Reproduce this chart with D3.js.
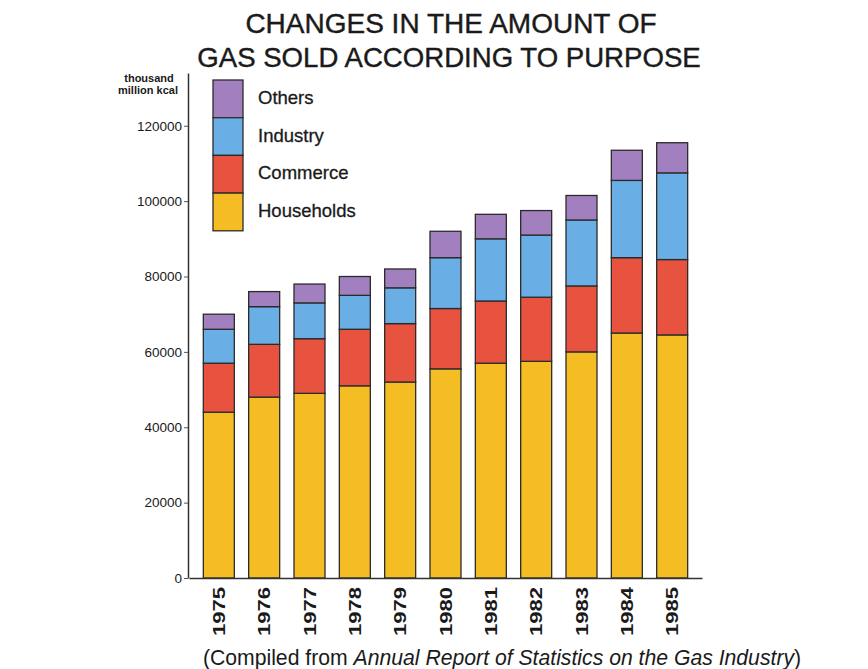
<!DOCTYPE html>
<html>
<head>
<meta charset="utf-8">
<script src="https://cdn.jsdelivr.net/npm/d3@7"></script>
<style>
  body { margin: 0; background: #fff; }
  text { font-family: "Liberation Sans", Arial, sans-serif; fill: #1a1a1a; }
</style>
</head>
<body>
<svg id="chart" width="868" height="669"></svg>
<script>
// data (thousand million kcal)
const years = ['1975','1976','1977','1978','1979','1980','1981','1982','1983','1984','1985']
const households = [44000, 48000, 49000, 51000, 52000, 55500, 57000, 57500, 60000, 65000, 64500]
const commerce   = [13000, 14000, 14500, 15000, 15500, 16000, 16500, 17000, 17500, 20000, 20000]
const industry   = [ 9000, 10000,  9500,  9000,  9500, 13500, 16500, 16500, 17500, 20500, 23000]
const others     = [ 4000,  4000,  5000,  5000,  5000,  7000,  6500,  6500,  6500,  8000,  8000]
const seriesNames = ['Households', 'Commerce', 'Industry', 'Others']
const colors = ['#f4bd24', '#e8533f', '#6aaee6', '#a27fbe']
const yTicks = [0, 20000, 40000, 60000, 80000, 100000, 120000]

const svg = d3.select('#chart')

const rows = years.map((y, i) => ({
  year: y,
  Households: households[i],
  Commerce: commerce[i],
  Industry: industry[i],
  Others: others[i]
}))
const stacked = d3.stack().keys(seriesNames)(rows)

const x = d3.scaleBand().domain(years).range([189, 702]).padding(0.316)
const y = d3.scaleLinear().domain([0, 134000]).range([578, 73])
const color = d3.scaleOrdinal().domain(seriesNames).range(colors)

// title
svg.append('text')
  .attr('x', 451).attr('y', 33)
  .attr('text-anchor', 'middle')
  .style('font-size', '28px')
  .style('stroke', '#1a1a1a').style('stroke-width', 0.4)
  .text('CHANGES IN THE AMOUNT OF')
svg.append('text')
  .attr('x', 449).attr('y', 67)
  .attr('text-anchor', 'middle')
  .style('font-size', '27.6px')
  .style('stroke', '#1a1a1a').style('stroke-width', 0.4)
  .text('GAS SOLD ACCORDING TO PURPOSE')

// bars
svg.append('g')
  .selectAll('g')
  .data(stacked)
  .join('g')
  .attr('fill', d => color(d.key))
  .selectAll('rect')
  .data(d => d)
  .join('rect')
  .attr('x', d => x(d.data.year))
  .attr('width', x.bandwidth())
  .attr('y', d => y(d[1]))
  .attr('height', d => y(d[0]) - y(d[1]))
  .attr('stroke', '#2b2b2b')
  .attr('stroke-width', 1.3)

// y axis
const yAxis = svg.append('g')
  .attr('transform', 'translate(188,0)')
  .call(d3.axisLeft(y).tickValues(yTicks).tickSize(4).tickSizeOuter(0).tickFormat(d3.format('d')))
yAxis.select('.domain').attr('stroke', '#333').attr('stroke-width', 1.5)
yAxis.selectAll('.tick line').attr('stroke', '#555')
yAxis.selectAll('.tick text')
  .attr('x', -6)
  .style('font-size', '13.5px')
  .style('font-family', '"Liberation Sans", Arial, sans-serif')
  .attr('fill', '#4a4a4a')

// x axis
const xAxis = svg.append('g')
  .attr('transform', 'translate(0,578)')
  .call(d3.axisBottom(x).tickSize(0).tickSizeOuter(0))
xAxis.select('.domain').attr('stroke', '#333').attr('stroke-width', 1.5)
xAxis.selectAll('.tick text')
  .attr('transform', 'rotate(-90)')
  .attr('x', -9).attr('y', 0).attr('dy', '0.36em')
  .attr('text-anchor', 'end')
  .attr('textLength', 49)
  .attr('lengthAdjust', 'spacingAndGlyphs')
  .style('font-size', '17px')
  .style('font-weight', 'bold')
  .style('font-family', '"Liberation Sans", Arial, sans-serif')
  .attr('fill', '#1a1a1a')

// unit label
svg.append('text')
  .attr('x', 149).attr('y', 82)
  .attr('text-anchor', 'middle')
  .style('font-size', '11px').style('font-weight', 'bold')
  .attr('fill', '#333')
  .text('thousand')
svg.append('text')
  .attr('x', 148).attr('y', 94)
  .attr('text-anchor', 'middle')
  .style('font-size', '11px').style('font-weight', 'bold')
  .attr('fill', '#333')
  .text('million kcal')

// legend: stacked swatch, top to bottom Others..Households
const legendKeys = seriesNames.slice().reverse()
const lg = svg.append('g')
lg.selectAll('rect')
  .data(legendKeys)
  .join('rect')
  .attr('x', 213)
  .attr('y', (d, i) => 80 + i * 37.7)
  .attr('width', 30)
  .attr('height', 37.7)
  .attr('fill', d => color(d))
  .attr('stroke', '#2b2b2b')
  .attr('stroke-width', 1.3)
lg.selectAll('text')
  .data(legendKeys)
  .join('text')
  .attr('x', 258)
  .attr('y', (d, i) => 104 + i * 37.7)
  .style('font-size', '18.5px')
  .style('stroke', '#1a1a1a').style('stroke-width', 0.3)
  .text(d => d)

// source note
const note = svg.append('text')
  .attr('x', 502).attr('y', 665)
  .attr('text-anchor', 'middle')
  .style('font-size', '21.2px')
note.append('tspan').text('(Compiled from ')
note.append('tspan').style('font-style', 'italic').text('Annual Report of Statistics on the Gas Industry')
note.append('tspan').text(')')
</script>
</body>
</html>
